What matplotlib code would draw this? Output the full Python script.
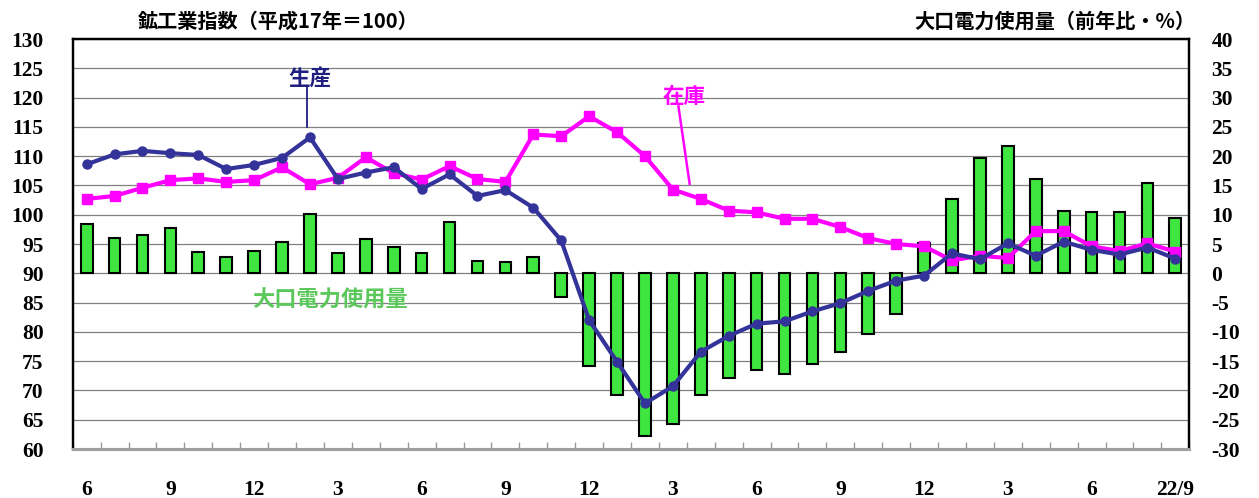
import numpy as np
import matplotlib
matplotlib.use("Agg")
import matplotlib.pyplot as plt

plt.rcParams['font.family'] = ['Noto Sans CJK JP', 'DejaVu Sans']

# months, 6 (first year) .. 22/9
months = [6, 7, 8, 9, 10, 11, 12, 1, 2, 3, 4, 5, 6, 7, 8, 9, 10, 11, 12, 1,
          2, 3, 4, 5, 6, 7, 8, 9, 10, 11, 12, 1, 2, 3, 4, 5, 6, 7, 8, 9]
tick_labels = ['6', '9', '12', '3', '6', '9', '12', '3', '6', '9', '12', '3', '6', '22/9']

# 鉱工業指数 生産 (left axis)
production = [108.6, 110.3, 110.9, 110.5, 110.2, 107.8, 108.5, 109.7, 113.2, 106.1,
              107.2, 108.1, 104.4, 106.9, 103.2, 104.2, 101.2, 95.6, 82.0, 74.9,
              67.8, 70.7, 76.6, 79.3, 81.4, 81.8, 83.5, 84.9, 87.0, 88.75,
              89.6, 93.4, 92.4, 95.1, 93.0, 95.4, 94.0, 93.2, 94.4, 92.5]
# 鉱工業指数 在庫 (left axis)
inventory = [102.7, 103.2, 104.6, 105.9, 106.2, 105.6, 105.9, 108.1, 105.2, 106.3,
             109.8, 107.1, 106.0, 108.3, 106.1, 105.6, 113.7, 113.4, 116.8, 114.1,
             110.0, 104.3, 102.7, 100.7, 100.4, 99.3, 99.3, 97.9, 96.0, 95.0,
             94.6, 92.2, 93.0, 92.6, 97.2, 97.2, 94.6, 93.8, 95.1, 93.7]
# 大口電力使用量 前年比 % (right axis)
power = [8.4, 6.1, 6.5, 7.8, 3.6, 2.7, 3.75, 5.4, 10.2, 3.5,
         5.8, 4.5, 3.4, 8.8, 2.1, 1.9, 2.7, -4.0, -15.9, -20.7,
         -27.7, -25.8, -20.8, -17.8, -16.5, -17.2, -15.5, -13.4, -10.3, -6.9,
         5.2, 12.7, 19.7, 21.8, 16.1, 10.6, 10.5, 10.5, 15.5, 9.4]

x = np.arange(len(months))

W, H = 1259, 498
fig = plt.figure(figsize=(W / 100, H / 100), dpi=100)
left, right, top, bottom = 72.7, 1189.3, 39, 449
ax = fig.add_axes([left / W, 1 - bottom / H, (right - left) / W, (bottom - top) / H])
ax2 = ax.twinx()
ax.set_zorder(2)
ax2.set_zorder(1)
ax.patch.set_visible(False)

num_font = dict(family='Liberation Serif', weight='bold', size=15.5)

# bars on the right scale
ax2.bar(x, power, width=0.42, color='#3FE63F', edgecolor='black', linewidth=1.5, zorder=3)
ax2.set_ylim(-30, 40)
ax2.set_yticks(range(-30, 41, 5))
ax2.set_yticklabels([str(v) for v in range(-30, 41, 5)], fontdict=num_font)
ax2.tick_params(axis='y', length=0, pad=16)
ax2.grid(axis='y', color='#808080', linewidth=0.9)
ax2.set_axisbelow(True)

# lines on the left scale
ax.plot(x, inventory, color='#FF00FF', lw=3, marker='s', ms=6.5, zorder=3)
ax.plot(x, production, color='#333399', lw=3, marker='o', ms=6.5, zorder=4)
ax.set_ylim(60, 130)
ax.set_xlim(-0.5, len(x) - 0.5)
ax.set_yticks(range(60, 131, 5))
ax.set_yticklabels([str(v) for v in range(60, 131, 5)], fontdict=num_font)
ax.tick_params(axis='y', length=0, pad=21)

ax.set_xticks(x[::3])
ax.set_xticklabels(tick_labels, fontdict=num_font)
ax.set_xticks(np.arange(-0.5, len(x), 1), minor=True)
ax.tick_params(axis='x', which='major', length=0, pad=22)
ax.tick_params(axis='x', which='minor', direction='in', length=5, width=1, color='#999999')

for a in (ax, ax2):
    for s in ('top', 'left', 'right'):
        a.spines[s].set_color('black')
        a.spines[s].set_linewidth(1.6)
    a.spines['bottom'].set_color('#A0A0A0')
    a.spines['bottom'].set_linewidth(2.2)

# labels on the series
ax.text(8.0, 123.4, '生産', color='#1F1F80', fontsize=15.5, fontweight='bold',
        ha='center', va='center')
ax.plot([7.9, 7.9], [121.9, 115.0], color='#1F1F80', lw=1.3)
ax.text(21.4, 120.1, '在庫', color='#FF00FF', fontsize=15.5, fontweight='bold',
        ha='center', va='center')
ax.plot([21.2, 21.6], [118.5, 105.3], color='#FF00FF', lw=1.8)
ax.text(8.73, 85.5, '大口電力使用量', color='#5CC85C', fontsize=16, fontweight='bold',
        ha='center', va='center')

fig.text(278 / W, 1 - 21 / H, '鉱工業指数（平成17年＝100）', ha='center', va='center',
         fontsize=14.5, fontweight='bold')
fig.text(1195 / W, 1 - 21 / H, '大口電力使用量（前年比・%）', ha='right', va='center',
         fontsize=14.5, fontweight='bold')

fig.savefig('out.png', dpi=100)
